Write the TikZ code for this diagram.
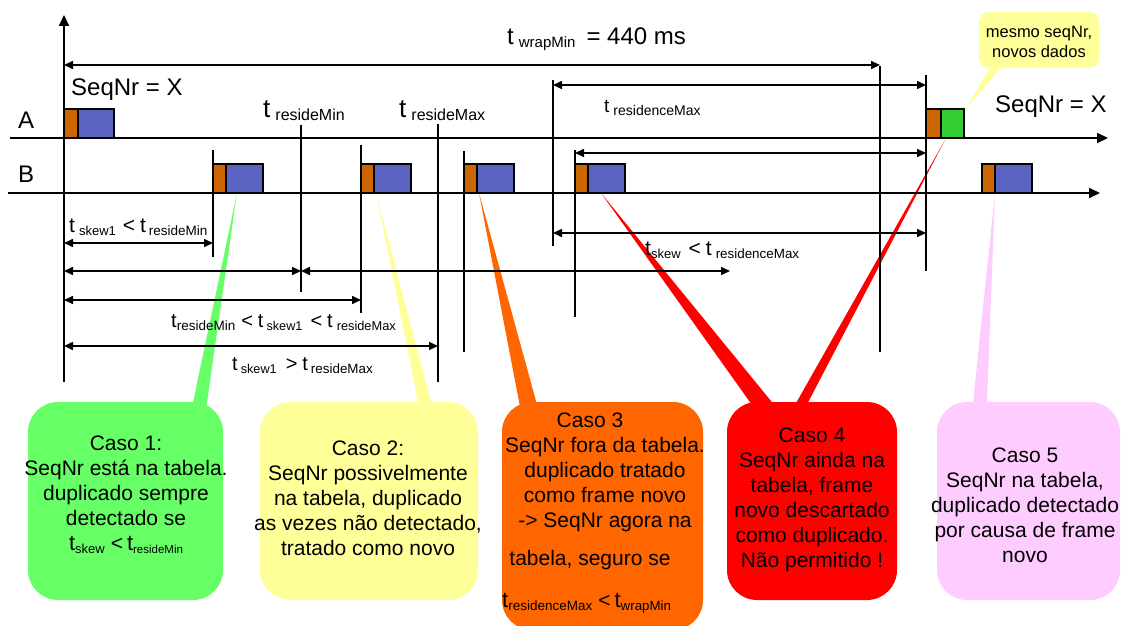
\documentclass[tikz,border=0pt]{standalone}
\usepackage{fontspec}
\setmainfont{Liberation Sans}
\usetikzlibrary{arrows.meta}
\definecolor{frameor}{HTML}{CC6600}
\definecolor{frameblue}{HTML}{5B63C0}
\definecolor{framegreen}{HTML}{33CC33}
\definecolor{casegreen}{HTML}{66FF66}
\definecolor{caseyellow}{HTML}{FFFF99}
\definecolor{caseorange}{HTML}{FF6600}
\definecolor{casered}{HTML}{FF0000}
\definecolor{casepink}{HTML}{FFCCFF}
% font of a given size
\newcommand\fsz[2]{{\fontsize{#1}{#1}\selectfont #2}}
% t with a lowered index: t-size, gap, index-size, index
\newcommand\tidx[4]{\fsz{#1}{t}\hspace{#2}\raisebox{-3pt}{\fsz{#3}{#4}}}
\tikzset{
  timeline/.style={line width=2pt,-{Triangle[length=11pt,width=10pt]}},
  marker/.style={line width=1.6pt},
  span/.style={line width=1.6pt,{Triangle[length=9pt,width=8pt]}-{Triangle[length=9pt,width=8pt]}},
  hdr/.style={draw=black,line width=1.5pt,fill=frameor},
  body/.style={draw=black,line width=1.5pt,fill=frameblue},
  lbl/.style={inner sep=0pt,anchor=base west},
  % multi-line texts are placed by the baseline of their last line
  casetext/.style={inner sep=0pt,anchor=base,align=center,font=\fontsize{21}{25}\selectfont},
}
\begin{document}
\begin{tikzpicture}[x=1pt,y=-1pt]
\useasboundingbox (0,0) rectangle (1121,626);
\begin{scope}
\clip (0,0) rectangle (1121,626);
% callout pointers
\fill[casegreen]  (237,193) -- (191,412) -- (205.6,412) -- cycle;
\fill[caseyellow] (376,193) -- (420,412) -- (433.7,412) -- cycle;
\fill[caseorange] (479,193) -- (521,412) -- (539,412) -- cycle;
\fill[casered]    (601,193) -- (757,412) -- (780,412) -- cycle;
\fill[casered]    (945,140) -- (791,412) -- (803,412) -- cycle;
\fill[casepink]   (995,193) -- (972,412) -- (986.6,412) -- cycle;
\fill[caseyellow] (966,109) -- (994,60) -- (1007,60) -- cycle;
% callout boxes
\fill[casegreen,rounded corners=30pt]  (28,402) rectangle (223,600);
\fill[caseyellow,rounded corners=30pt] (260,402) rectangle (478,600);
\fill[caseorange,rounded corners=30pt] (502,402) rectangle (703,630);
\fill[casered,rounded corners=30pt]    (727,402) rectangle (897,600);
\fill[casepink,rounded corners=30pt]   (937,402) rectangle (1120,600);
\fill[caseyellow,rounded corners=10pt] (979,12) rectangle (1099,68);
\end{scope}

% time axis and the two stations
\draw[timeline] (64,382) -- (64,15);
\draw[timeline] (10,138) -- (1108,138);
\draw[timeline] (8,193) -- (1100,193);
\node[lbl] (la) at (18,128) {\fsz{24}{A}};
\node[lbl] (lb) at (18,182) {\fsz{24}{B}};

% time markers
\draw[marker] (213,150) -- (213,257);
\draw[marker] (301,125) -- (301,292);
\draw[marker] (361,145) -- (361,313);
\draw[marker] (438,124) -- (438,382);
\draw[marker] (464,151) -- (464,352);
\draw[marker] (553,80)  -- (553,246);
\draw[marker] (575,150) -- (575,317);
\draw[marker] (880,66)  -- (880,352);
\draw[marker] (926,75)  -- (926,271);

% intervals
\draw[span] (64,65)   -- (880,65);
\draw[span] (553,85)  -- (926,85);
\draw[span] (575,153) -- (926,153);
\draw[span] (553,233) -- (926,233);
\draw[span] (64,243)  -- (213,243);
\draw[span] (64,271)  -- (301,271);
\draw[span] (301,271) -- (730,271);
\draw[span] (64,300)  -- (361,300);
\draw[span] (64,346)  -- (438,346);

% frames on A
\draw[hdr]  (64,109) rectangle (78,138);
\draw[body] (78,109) rectangle (114,138);
\draw[hdr]  (926,109) rectangle (941,138);
\draw[draw=black,line width=1.5pt,fill=framegreen] (941,109) rectangle (964,138);
% frames on B
\foreach \x in {213,361,464,575,982}{
  \draw[hdr]  (\x,164) rectangle (\x+13,193);
  \draw[body] (\x+13,164) rectangle (\x+50,193);
}

% labels
\node[lbl] (seqa) at (71,95) {\fsz{24}{SeqNr = X}};
\node[lbl] (seqb) at (995,112) {\fsz{24}{SeqNr = X}};
\node[lbl] (wrap) at (507,45) {\tidx{24}{5pt}{15}{wrapMin}\hspace{11pt}\fsz{24}{= 440 ms}};
\node[lbl] (rmin) at (263,117) {\tidx{26}{5pt}{16}{resideMin}};
\node[lbl] (rmax) at (399,117) {\tidx{26}{5pt}{16}{resideMax}};
\node[lbl] (resm) at (604,112) {\tidx{19}{4pt}{14}{residenceMax}};
\node[lbl] (c1l) at (69,232) {\tidx{21}{4pt}{13}{skew1}\hspace{7pt}\fsz{21}{<}\hspace{5pt}\tidx{21}{3pt}{13.5}{resideMin}};
\node[lbl] (c2l) at (171,327) {\tidx{20}{0pt}{13.5}{resideMin}\hspace{6pt}\fsz{20}{<}\hspace{5pt}\tidx{20}{3pt}{12.7}{skew1}\hspace{8pt}\fsz{20}{<}\hspace{5pt}\tidx{20}{4pt}{12.8}{resideMax}};
\node[lbl] (c3l) at (232,370) {\tidx{20}{3pt}{12.7}{skew1}\hspace{9pt}\fsz{20}{>}\hspace{5pt}\tidx{20}{3pt}{13.4}{resideMax}};
\node[lbl] (c4l) at (645,255) {\tidx{21}{0pt}{13}{skew}\hspace{8pt}\fsz{21}{<}\hspace{5pt}\tidx{21}{4pt}{13.4}{residenceMax}};

% case texts
\node[casetext] (case1) at (126,550) {Caso 1:\\SeqNr está na tabela.\\duplicado sempre\\detectado se\\\tidx{22}{0pt}{13}{skew}\hspace{6pt}<\hspace{4pt}\tidx{22}{0pt}{11.5}{resideMin}};
\node[casetext] (case2) at (368,555) {Caso 2:\\SeqNr possivelmente\\na tabela, duplicado\\as vezes não detectado,\\tratado como novo};
\node[casetext] (case3a) at (590,427) {Caso 3};
\node[casetext] (case3b) at (605,527) {SeqNr fora da tabela.\\duplicado tratado\\como frame novo\\-> SeqNr agora na};
\node[casetext] (case3c) at (590,565) {tabela, seguro se};
\node[lbl] (case3d) at (502,607) {\tidx{22}{0pt}{13.5}{residenceMax}\hspace{6pt}\fsz{21}{<}\hspace{4pt}\tidx{22}{0pt}{13.3}{wrapMin}};
\node[casetext] (case4) at (812,567) {Caso 4\\SeqNr ainda na\\tabela, frame\\novo descartado\\como duplicado.\\Não permitido !};
\node[casetext] (case5) at (1025,562) {Caso 5\\SeqNr na tabela,\\duplicado detectado\\por causa de frame\\novo};
\node[inner sep=0pt,anchor=base,align=center,font=\fontsize{16.5}{20}\selectfont] (note) at (1039,57) {mesmo seqNr,\\novos dados};
\end{tikzpicture}
\end{document}
